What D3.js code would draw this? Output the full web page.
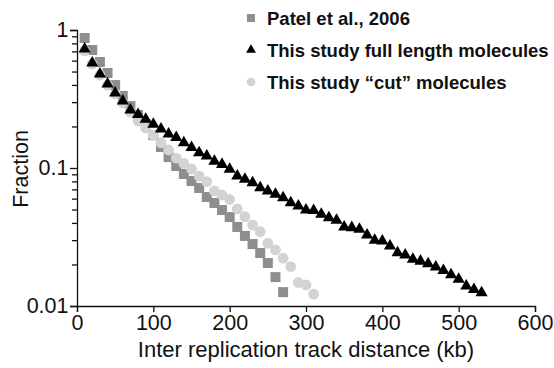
<!DOCTYPE html>
<html>
<head>
<meta charset="utf-8">
<script src="https://cdn.jsdelivr.net/npm/d3@7"></script>
<style>
  body { margin: 0; background: #fff; }
  svg text { font-family: "Liberation Sans", Arial, Helvetica, sans-serif; }
</style>
</head>
<body>
<div id="chart"></div>
<script>
// Patel et al., 2006 (squares)
const patelKb = [10, 20, 30, 40, 50, 60, 70, 80, 90, 100, 110, 120, 130, 140, 150, 160, 170, 180, 190, 200, 210, 220, 230, 240, 250, 260, 270];
const patelFrac = [0.875, 0.716, 0.586, 0.488, 0.399, 0.333, 0.281, 0.242, 0.208, 0.173, 0.142, 0.120, 0.1034, 0.0905, 0.0805, 0.0716, 0.0616, 0.0558, 0.0496, 0.0441, 0.0374, 0.0322, 0.0281, 0.0242, 0.0205, 0.0162, 0.0126];

// This study full length molecules (triangles)
const fullKb = [10, 20, 30, 40, 50, 60, 70, 80, 90, 100, 110, 120, 130, 140, 150, 160, 170, 180, 190, 200, 210, 220, 230, 240, 250, 260, 270, 280, 290, 300, 310, 320, 330, 340, 350, 360, 370, 380, 390, 400, 410, 420, 430, 440, 450, 460, 470, 480, 490, 500, 510, 520, 530];
const fullFrac = [0.741, 0.586, 0.488, 0.413, 0.356, 0.311, 0.268, 0.248, 0.229, 0.211, 0.195, 0.179, 0.169, 0.155, 0.143, 0.131, 0.124, 0.114, 0.108, 0.0995, 0.0890, 0.0842, 0.0796, 0.0732, 0.0693, 0.0656, 0.0620, 0.0570, 0.0540, 0.0505, 0.0500, 0.0470, 0.0444, 0.0425, 0.0380, 0.0376, 0.0366, 0.0332, 0.0304, 0.0301, 0.0277, 0.0247, 0.0238, 0.0222, 0.0215, 0.0206, 0.0195, 0.0184, 0.0171, 0.0159, 0.0142, 0.0134, 0.0127];

// This study "cut" molecules (circles)
const cutKb = [10, 20, 30, 40, 50, 60, 70, 80, 90, 100, 110, 120, 130, 140, 150, 160, 170, 180, 190, 200, 210, 220, 230, 240, 250, 260, 270, 280, 290, 300, 310];
const cutFrac = [0.705, 0.567, 0.472, 0.399, 0.344, 0.296, 0.255, 0.219, 0.195, 0.173, 0.152, 0.135, 0.118, 0.108, 0.0984, 0.0875, 0.0796, 0.0681, 0.0637, 0.0591, 0.0505, 0.0444, 0.0386, 0.0345, 0.0285, 0.0255, 0.0222, 0.0193, 0.0148, 0.0142, 0.0122];

const xTicks = [0, 100, 200, 300, 400, 500, 600];
const yTicks = [0.01, 0.1, 1];
const yTickLabels = ["0.01", "0.1", "1"];
const legendLabels = ["Patel et al., 2006", "This study full length molecules", "This study \u201ccut\u201d molecules"];

const width = 554, height = 368;
const svg = d3.select("#chart").append("svg")
  .attr("width", width)
  .attr("height", height);

const x = d3.scaleLinear().domain([0, 600]).range([77, 535]);
const y = d3.scaleLog().domain([0.01, 1]).range([306, 30]);

// x axis
const xAxis = svg.append("g")
  .attr("transform", `translate(0,${y(0.01)})`)
  .call(d3.axisBottom(x).tickValues(xTicks).tickSize(6).tickPadding(3).tickFormat(d3.format("d")));
xAxis.selectAll("text").style("font-size", "21.5px").attr("fill", "#111");

// y axis, log with minor ticks
const minor = [];
[0.01, 0.1].forEach(dec => { for (let k = 2; k <= 9; k++) minor.push(dec * k); });
const yAxis = svg.append("g")
  .attr("transform", `translate(${x(0)},0)`)
  .call(d3.axisLeft(y).tickValues(yTicks).tickSize(7).tickPadding(1.5).tickFormat((d, i) => yTickLabels[i]));
yAxis.selectAll("text").style("font-size", "21.5px").attr("fill", "#111");
svg.append("g")
  .attr("transform", `translate(${x(0)},0)`)
  .call(d3.axisLeft(y).tickValues(minor).tickSize(5).tickFormat(""))
  .call(g => g.select(".domain").remove());

svg.selectAll(".domain, .tick line").attr("stroke", "#111").attr("stroke-width", 1.3);

// axis titles
svg.append("text")
  .attr("x", (x(0) + x(600)) / 2)
  .attr("y", 357)
  .attr("text-anchor", "middle")
  .style("font-size", "22px")
  .attr("fill", "#111")
  .text("Inter replication track distance (kb)");

svg.append("text")
  .attr("transform", "rotate(-90)")
  .attr("x", -169)
  .attr("y", 28)
  .attr("text-anchor", "middle")
  .style("font-size", "21.5px")
  .attr("fill", "#111")
  .text("Fraction");

// points
const sq = d3.symbol(d3.symbolSquare, 100);
const tri = d3.symbol(d3.symbolTriangle, 64);
const circ = d3.symbol(d3.symbolCircle, 92);

svg.append("g").selectAll("path")
  .data(patelKb.map((k, i) => [k, patelFrac[i]]))
  .enter().append("path")
  .attr("d", sq)
  .attr("transform", d => `translate(${x(d[0])},${y(d[1])})`)
  .attr("fill", "#8e8e90");

svg.append("g").selectAll("path")
  .data(cutKb.map((k, i) => [k, cutFrac[i]]))
  .enter().append("path")
  .attr("d", circ)
  .attr("transform", d => `translate(${x(d[0])},${y(d[1])})`)
  .attr("fill", "#d3d3d5");

svg.append("g").selectAll("path")
  .data(fullKb.map((k, i) => [k, fullFrac[i]]))
  .enter().append("path")
  .attr("d", tri)
  .attr("transform", d => `translate(${x(d[0])},${y(d[1]) + 1})`)
  .attr("fill", "#000");

// legend
const legend = svg.append("g");
const legSyms = [d3.symbol(d3.symbolSquare, 64), d3.symbol(d3.symbolTriangle, 42), d3.symbol(d3.symbolCircle, 60)];
const legFill = ["#8e8e90", "#000", "#d3d3d5"];
const legY = [18, 50, 82];
legendLabels.forEach((lab, i) => {
  legend.append("path")
    .attr("d", legSyms[i])
    .attr("transform", `translate(251,${legY[i]})`)
    .attr("fill", legFill[i]);
  legend.append("text")
    .attr("x", 267)
    .attr("y", legY[i] + 7)
    .style("font-size", "18.5px")
    .style("font-weight", "bold")
    .attr("fill", "#111")
    .text(lab);
});
</script>
</body>
</html>
